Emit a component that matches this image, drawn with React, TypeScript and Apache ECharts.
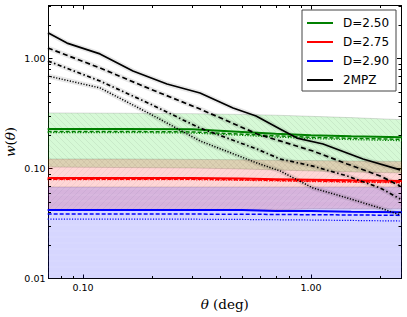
import React, { useEffect, useRef } from "react";
import * as echarts from "echarts";

const X_MIN = 0.0706;
const X_MAX = 2.48;
const Y_MIN = 0.01;
const Y_MAX = 3.03;

const xMinorTicks = [0.08, 0.09, 0.2, 0.3, 0.4, 0.5, 0.6, 0.7, 0.8, 0.9, 2];
const yMinorTicks = [0.02, 0.03, 0.04, 0.05, 0.06, 0.07, 0.08, 0.09, 0.2, 0.3, 0.4, 0.5, 0.6, 0.7, 0.8, 0.9, 2, 3];

const legendNames = ["D=2.50", "D=2.75", "D=2.90", "2MPZ"];

// model curves (D = fractal dimension)
const modelTheta = [0.07, 0.15, 0.3, 0.5, 0.7, 1.0, 1.5, 2.5];
const d250Solid = [0.229, 0.229, 0.227, 0.215, 0.207, 0.2, 0.196, 0.192];
const d250Dashed = [0.217, 0.217, 0.215, 0.205, 0.198, 0.192, 0.188, 0.184];
const d250Dotted = [0.212, 0.212, 0.21, 0.2, 0.193, 0.187, 0.183, 0.179];
const d250Upper = [0.32, 0.318, 0.315, 0.31, 0.305, 0.298, 0.29, 0.278];
const d250Lower = [0.103, 0.102, 0.101, 0.099, 0.097, 0.095, 0.093, 0.091];

const d275Solid = [0.082, 0.082, 0.082, 0.081, 0.08, 0.079, 0.078, 0.077];
const d275Dashed = [0.08, 0.08, 0.08, 0.079, 0.078, 0.077, 0.076, 0.075];
const d275Dotted = [0.079, 0.079, 0.079, 0.078, 0.077, 0.076, 0.075, 0.074];
const d275Upper = [0.122, 0.122, 0.121, 0.12, 0.119, 0.118, 0.117, 0.116];
const d275Lower = [0.042, 0.042, 0.042, 0.042, 0.042, 0.043, 0.043, 0.043];

const d290Solid = [0.042, 0.042, 0.042, 0.042, 0.041, 0.041, 0.0405, 0.04];
const d290Dashed = [0.0386, 0.0386, 0.0385, 0.0384, 0.0382, 0.038, 0.0378, 0.0375];
const d290Dotted = [0.0347, 0.0347, 0.0346, 0.0344, 0.0342, 0.034, 0.0337, 0.0333];
const d290Upper = [0.068, 0.068, 0.068, 0.068, 0.068, 0.068, 0.068, 0.068];
const d290Lower = [0.01, 0.01, 0.01, 0.01, 0.01, 0.01, 0.01, 0.01];

// 2MPZ measurements
const mpzSolidTheta = [0.0702, 0.0851, 0.1187, 0.1656, 0.2336, 0.326, 0.455, 0.574, 0.731, 0.868, 1.129, 1.69, 2.46];
const mpzSolid = [1.71, 1.38, 1.1, 0.769, 0.586, 0.485, 0.355, 0.3, 0.229, 0.189, 0.167, 0.122, 0.097];
const mpzTheta = [0.0702, 0.1187, 0.197, 0.326, 0.58, 0.731, 1.02, 1.44, 2.01, 2.46];
const mpzDashed = [1.245, 0.82, 0.528, 0.347, 0.206, 0.178, 0.144, 0.11, 0.0855, 0.0693];
const mpzDashDot = [0.949, 0.624, 0.386, 0.233, 0.15, 0.122, 0.105, 0.0855, 0.0665, 0.0528];
const mpzDotted = [0.693, 0.54, 0.313, 0.178, 0.112, 0.095, 0.0665, 0.054, 0.0437, 0.0378];

const zip = (xs: number[], ys: number[]) => xs.map((x, i) => [x, ys[i]]);

const hatch = (kind: string, color: string) => {
  let d = "M0,3L6,3";
  if (kind === "back") d = "M0,0L6,6M-1,5L1,7M5,-1L7,1";
  if (kind === "fwd") d = "M0,6L6,0M-1,1L1,-1M5,7L7,5";
  const svg = `<svg xmlns="http://www.w3.org/2000/svg" width="6" height="6"><path d="${d}" stroke="${color}" stroke-width="0.8" fill="none"/></svg>`;
  return {
    image: "data:image/svg+xml;charset=utf-8," + encodeURIComponent(svg),
    repeat: "repeat",
    imageWidth: 6,
    imageHeight: 6,
  };
};

const bandSeries = (upper: number[], lower: number[], fill: string, pattern: any) => ({
  type: "custom",
  coordinateSystem: "cartesian2d",
  clip: true,
  silent: true,
  z: 1,
  data: [[modelTheta[0], upper[0]]],
  renderItem: (_params: any, api: any) => {
    const pts: number[][] = [];
    modelTheta.forEach((t, i) => pts.push(api.coord([t, upper[i]])));
    for (let i = modelTheta.length - 1; i >= 0; i--) pts.push(api.coord([modelTheta[i], lower[i]]));
    return {
      type: "group",
      children: [
        { type: "polygon", shape: { points: pts }, style: { fill, stroke: "rgba(0,0,0,0.13)", lineWidth: 1 } },
        { type: "polygon", shape: { points: pts }, style: { fill: pattern, stroke: "none" } },
      ],
    };
  },
});

const lineSeries = (name: string, data: number[][], color: string, type: any, width: number, z = 3) => ({
  name,
  type: "line",
  data,
  symbol: "none",
  showSymbol: false,
  silent: true,
  z,
  itemStyle: { color },
  lineStyle: { color, width, type },
});

const glowSeries = (data: number[][]) => ({
  type: "line",
  data,
  symbol: "none",
  silent: true,
  z: 2,
  lineStyle: { color: "rgba(0,0,0,0.09)", width: 5 },
});

const isDecade = (v: number) => Math.abs(Math.log10(v) - Math.round(Math.log10(v))) < 1e-6;

const tickFont = { fontFamily: "DejaVu Sans", fontSize: 9.5, color: "#000" };
const nameStyle = {
  fontFamily: "DejaVu Serif",
  fontSize: 13.5,
  lineHeight: 14,
  color: "#000",
  rich: { i: { fontFamily: "DejaVu Serif", fontStyle: "italic", fontSize: 13.5, lineHeight: 14, color: "#000" } },
};

const axisBase = (min: number, max: number) => ({
  type: "log",
  logBase: 10,
  min,
  max,
  axisLine: { show: true, lineStyle: { color: "#000", width: 1 } },
  axisTick: { show: true, inside: true, length: 4, lineStyle: { color: "#000", width: 1 } },
  splitLine: { show: false },
  minorTick: { show: false },
});

export default function App() {
  const ref = useRef<HTMLDivElement>(null);
  useEffect(() => {
    if (!ref.current) return;
    const chart = echarts.init(ref.current, null, { renderer: "svg" });
    const minorTickSeries = (axis: "x" | "y") => ({
      type: "custom",
      coordinateSystem: "cartesian2d",
      silent: true,
      z: 10,
      data: axis === "x" ? xMinorTicks.map((v) => [v, Y_MIN]) : yMinorTicks.map((v) => [X_MIN, v]),
      renderItem: (params: any, api: any) => {
        const cs = params.coordSys;
        const len = 2.5;
        const st = { stroke: "#000", lineWidth: 1 };
        if (axis === "x") {
          const p = api.coord([api.value(0), Y_MIN]);
          const x = Math.round(p[0]) + 0.5;
          return {
            type: "group",
            children: [
              { type: "line", shape: { x1: x, y1: cs.y + cs.height, x2: x, y2: cs.y + cs.height - len }, style: st },
              { type: "line", shape: { x1: x, y1: cs.y, x2: x, y2: cs.y + len }, style: st },
            ],
          };
        }
        const p = api.coord([X_MIN, api.value(1)]);
        const y = Math.round(p[1]) + 0.5;
        return {
          type: "group",
          children: [
            { type: "line", shape: { x1: cs.x, y1: y, x2: cs.x + len, y2: y }, style: st },
            { type: "line", shape: { x1: cs.x + cs.width, y1: y, x2: cs.x + cs.width - len, y2: y }, style: st },
          ],
        };
      },
    });

    chart.setOption({
      animation: false,
      backgroundColor: "#fff",
      grid: { left: 48.5, top: 5.5, width: 352.5, height: 273, containLabel: false, outerBoundsMode: "none" },
      legend: {
        left: 302,
        top: 10,
        orient: "vertical",
        itemWidth: 26,
        itemHeight: 2,
        itemGap: 5,
        icon: "rect",
        padding: [6, 7, 4, 5],
        borderColor: "#444",
        borderWidth: 1,
        borderRadius: 0,
        backgroundColor: "#fff",
        selectedMode: false,
        textStyle: { fontFamily: "DejaVu Sans", fontSize: 12, color: "#000", lineHeight: 14, padding: [0, 0, 0, 5] },
        data: legendNames,
      },
      xAxis: [
        {
          ...axisBase(X_MIN, X_MAX),
          position: "bottom",
          axisLabel: { ...tickFont, margin: 4, formatter: (v: number) => (isDecade(v) ? v.toFixed(2) : "") },
          name: "{i|θ} (deg)",
          nameLocation: "middle",
          nameGap: 18,
          nameMoveOverlap: false,
          nameTextStyle: nameStyle,
        },
        { ...axisBase(X_MIN, X_MAX), position: "top", axisLabel: { show: false } },
      ],
      yAxis: [
        {
          ...axisBase(Y_MIN, Y_MAX),
          position: "left",
          axisLabel: { ...tickFont, margin: 3, formatter: (v: number) => (isDecade(v) ? v.toFixed(2) : "") },
          name: "{i|w}({i|θ})",
          nameLocation: "middle",
          nameRotate: 90,
          nameGap: 32,
          nameMoveOverlap: false,
          nameTextStyle: nameStyle,
        },
        { ...axisBase(Y_MIN, Y_MAX), position: "right", axisLabel: { show: false } },
      ],
      series: [
        bandSeries(d250Upper, d250Lower, "rgba(0,220,0,0.16)", hatch("back", "rgba(0,0,0,0.08)")),
        bandSeries(d275Upper, d275Lower, "rgba(255,0,0,0.16)", hatch("fwd", "rgba(0,0,0,0.06)")),
        bandSeries(d290Upper, d290Lower, "rgba(0,0,255,0.16)", hatch("horiz", "rgba(255,255,255,0.12)")),
        lineSeries("D=2.50", zip(modelTheta, d250Solid), "#008000", "solid", 2),
        lineSeries("d250dash", zip(modelTheta, d250Dashed), "#008000", [4, 2], 1.5),
        lineSeries("d250dot", zip(modelTheta, d250Dotted), "#008000", [1.2, 1.5], 1.2),
        lineSeries("D=2.75", zip(modelTheta, d275Solid), "#ff0000", "solid", 2),
        lineSeries("d275dash", zip(modelTheta, d275Dashed), "#ff0000", [4, 2], 1.5),
        lineSeries("d275dot", zip(modelTheta, d275Dotted), "#ff0000", [1.2, 1.5], 1.2),
        lineSeries("D=2.90", zip(modelTheta, d290Solid), "#0000ff", "solid", 2),
        lineSeries("d290dash", zip(modelTheta, d290Dashed), "#0000ff", [4, 2], 1.5),
        lineSeries("d290dot", zip(modelTheta, d290Dotted), "#0000ff", [1.2, 1.5], 1.2),
        glowSeries(zip(mpzSolidTheta, mpzSolid)),
        glowSeries(zip(mpzTheta, mpzDashed)),
        glowSeries(zip(mpzTheta, mpzDashDot)),
        glowSeries(zip(mpzTheta, mpzDotted)),
        lineSeries("2MPZ", zip(mpzSolidTheta, mpzSolid), "#000", "solid", 1.7, 4),
        lineSeries("mpzdash", zip(mpzTheta, mpzDashed), "#000", [5, 3], 1.7, 4),
        lineSeries("mpzdashdot", zip(mpzTheta, mpzDashDot), "#000", [4, 2.5, 1.5, 2.5], 1.7, 4),
        lineSeries("mpzdot", zip(mpzTheta, mpzDotted), "#000", [1.2, 1.6], 1.5, 4),
        minorTickSeries("x"),
        minorTickSeries("y"),
      ],
    });
    return () => chart.dispose();
  }, []);
  return <div ref={ref} style={{ width: 407, height: 317, position: "absolute", left: 0, top: 0 }} />;
}
